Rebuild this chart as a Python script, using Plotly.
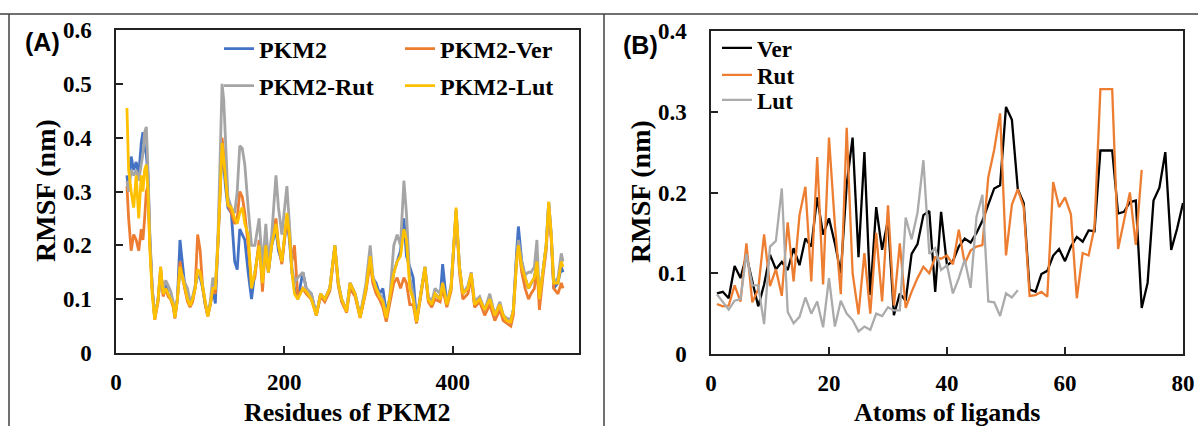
import plotly.graph_objects as go

# ---------------- Panel A: RMSF of PKM2 residues ----------------
residues = [13, 15, 18, 21, 24, 27, 30, 32, 34, 36,
            38, 40, 43, 46, 50, 53, 56, 59, 62, 65,
            68, 70, 73, 76, 79, 82, 85, 88, 91, 94,
            97, 100, 103, 106, 109, 112, 115, 118, 121, 124,
            126, 128, 130, 133, 137, 141, 144, 147, 150, 153,
            157, 161, 165, 170, 174, 178, 181, 185, 190, 193,
            197, 203, 206, 209, 212, 216, 222, 226, 232, 238,
            243, 248, 254, 260, 264, 268, 274, 278, 284, 290,
            297, 302, 305, 309, 313, 317, 321, 325, 330, 334,
            338, 342, 345, 349, 353, 357, 361, 367, 371, 375,
            379, 385, 388, 393, 398, 404, 408, 412, 418, 422,
            426, 432, 438, 444, 450, 456, 460, 464, 469, 472,
            476, 478, 482, 486, 490, 493, 497, 500, 503, 507,
            511, 514, 517, 520, 525, 529, 531]

pkm2 = [0.33, 0.30, 0.365, 0.34, 0.355, 0.33, 0.39, 0.41, 0.38, 0.37,
        0.33, 0.22, 0.12, 0.065, 0.10, 0.15, 0.11, 0.125, 0.11, 0.10,
        0.09, 0.068, 0.10, 0.21, 0.17, 0.12, 0.10, 0.088, 0.10, 0.12,
        0.145, 0.14, 0.12, 0.09, 0.07, 0.09, 0.12, 0.092, 0.20, 0.30,
        0.38, 0.35, 0.31, 0.27, 0.26, 0.17, 0.155, 0.23, 0.22, 0.21,
        0.15, 0.10, 0.15, 0.20, 0.14, 0.20, 0.15, 0.20, 0.23, 0.19,
        0.17, 0.25, 0.21, 0.15, 0.12, 0.10, 0.15, 0.12, 0.11, 0.07,
        0.11, 0.10, 0.12, 0.20, 0.13, 0.10, 0.078, 0.13, 0.11, 0.068,
        0.12, 0.18, 0.14, 0.13, 0.11, 0.12, 0.075, 0.10, 0.15, 0.17,
        0.19, 0.25, 0.18, 0.16, 0.14, 0.06, 0.10, 0.16, 0.10, 0.09,
        0.11, 0.10, 0.165, 0.09, 0.12, 0.265, 0.16, 0.11, 0.12, 0.145,
        0.09, 0.10, 0.08, 0.10, 0.07, 0.09, 0.07, 0.062, 0.06, 0.08,
        0.19, 0.235, 0.17, 0.14, 0.12, 0.13, 0.14, 0.17, 0.10, 0.15,
        0.20, 0.28, 0.22, 0.12, 0.13, 0.16, 0.15]

pkm2_ver = [0.31, 0.25, 0.19, 0.22, 0.21, 0.19, 0.23, 0.21, 0.25, 0.30,
            0.31, 0.21, 0.12, 0.062, 0.095, 0.16, 0.105, 0.12, 0.105, 0.10,
            0.085, 0.064, 0.10, 0.17, 0.14, 0.115, 0.095, 0.085, 0.095, 0.12,
            0.22, 0.19, 0.12, 0.09, 0.068, 0.09, 0.12, 0.11, 0.20, 0.32,
            0.40, 0.37, 0.33, 0.275, 0.26, 0.24, 0.25, 0.30, 0.29, 0.26,
            0.20, 0.13, 0.14, 0.21, 0.114, 0.21, 0.15, 0.21, 0.25, 0.20,
            0.165, 0.25, 0.22, 0.17, 0.20, 0.105, 0.12, 0.11, 0.10, 0.07,
            0.105, 0.095, 0.115, 0.195, 0.125, 0.095, 0.075, 0.12, 0.105, 0.065,
            0.115, 0.17, 0.13, 0.11, 0.10, 0.085, 0.058, 0.09, 0.13, 0.14,
            0.12, 0.14, 0.13, 0.09, 0.09, 0.055, 0.095, 0.155, 0.095, 0.085,
            0.10, 0.095, 0.12, 0.085, 0.115, 0.26, 0.15, 0.10, 0.11, 0.14,
            0.085, 0.095, 0.07, 0.09, 0.06, 0.08, 0.06, 0.055, 0.05, 0.07,
            0.18, 0.20, 0.15, 0.12, 0.10, 0.11, 0.12, 0.16, 0.08, 0.14,
            0.19, 0.27, 0.21, 0.12, 0.11, 0.13, 0.12]

pkm2_rut = [0.32, 0.30, 0.34, 0.33, 0.34, 0.32, 0.35, 0.37, 0.41, 0.42,
            0.34, 0.23, 0.12, 0.068, 0.10, 0.15, 0.12, 0.135, 0.125, 0.115,
            0.095, 0.07, 0.105, 0.15, 0.145, 0.13, 0.12, 0.095, 0.105, 0.125,
            0.145, 0.145, 0.125, 0.095, 0.072, 0.095, 0.14, 0.12, 0.21, 0.38,
            0.50, 0.47, 0.40, 0.29, 0.27, 0.26, 0.30, 0.385, 0.38, 0.35,
            0.27, 0.20, 0.20, 0.25, 0.16, 0.24, 0.17, 0.22, 0.33, 0.27,
            0.22, 0.31, 0.24, 0.16, 0.13, 0.14, 0.15, 0.12, 0.11, 0.072,
            0.11, 0.10, 0.12, 0.20, 0.13, 0.10, 0.08, 0.13, 0.11, 0.07,
            0.13, 0.20, 0.145, 0.12, 0.11, 0.10, 0.07, 0.10, 0.20, 0.22,
            0.20, 0.32, 0.26, 0.14, 0.11, 0.062, 0.10, 0.16, 0.105, 0.095,
            0.12, 0.11, 0.13, 0.095, 0.125, 0.265, 0.16, 0.11, 0.125, 0.15,
            0.095, 0.105, 0.08, 0.11, 0.07, 0.095, 0.07, 0.065, 0.062, 0.08,
            0.18, 0.21, 0.17, 0.145, 0.15, 0.15, 0.16, 0.21, 0.10, 0.15,
            0.20, 0.28, 0.22, 0.13, 0.14, 0.185, 0.17]

pkm2_lut = [0.455, 0.34, 0.30, 0.27, 0.33, 0.25, 0.33, 0.30, 0.34, 0.35,
            0.30, 0.20, 0.11, 0.062, 0.10, 0.16, 0.11, 0.12, 0.11, 0.10,
            0.09, 0.066, 0.10, 0.16, 0.14, 0.12, 0.10, 0.088, 0.10, 0.12,
            0.155, 0.15, 0.12, 0.09, 0.068, 0.09, 0.12, 0.12, 0.20, 0.31,
            0.39, 0.36, 0.32, 0.275, 0.27, 0.25, 0.24, 0.26, 0.27, 0.24,
            0.22, 0.12, 0.15, 0.20, 0.13, 0.20, 0.15, 0.20, 0.24, 0.20,
            0.17, 0.26, 0.22, 0.15, 0.11, 0.10, 0.12, 0.115, 0.10, 0.07,
            0.11, 0.10, 0.12, 0.20, 0.13, 0.10, 0.077, 0.13, 0.11, 0.066,
            0.12, 0.18, 0.14, 0.12, 0.105, 0.095, 0.065, 0.10, 0.148, 0.17,
            0.18, 0.23, 0.21, 0.12, 0.10, 0.058, 0.10, 0.16, 0.10, 0.09,
            0.11, 0.10, 0.13, 0.09, 0.12, 0.27, 0.16, 0.11, 0.12, 0.148,
            0.09, 0.10, 0.08, 0.10, 0.07, 0.09, 0.07, 0.06, 0.058, 0.08,
            0.17, 0.20, 0.16, 0.14, 0.12, 0.13, 0.14, 0.17, 0.10, 0.15,
            0.20, 0.281, 0.22, 0.13, 0.13, 0.17, 0.16]

# ---------------- Panel B: RMSF of ligand atoms ----------------
ver_atoms = list(range(1, 81))
ver = [0.075, 0.077, 0.069, 0.109, 0.094, 0.122, 0.09, 0.059, 0.086, 0.123,
       0.105, 0.114, 0.104, 0.131, 0.11, 0.143, 0.133, 0.194, 0.148, 0.168,
       0.137, 0.10, 0.21, 0.268, 0.12, 0.25, 0.073, 0.182, 0.129, 0.166,
       0.048, 0.075, 0.066, 0.124, 0.136, 0.172, 0.177, 0.077, 0.176, 0.11,
       0.115, 0.133, 0.143, 0.138, 0.15, 0.165, 0.185, 0.205, 0.209, 0.306,
       0.29, 0.204, 0.187, 0.08, 0.077, 0.099, 0.103, 0.122, 0.13, 0.115,
       0.133, 0.145, 0.139, 0.153, 0.152, 0.252, 0.252, 0.252, 0.174, 0.176,
       0.188, 0.19, 0.057, 0.088, 0.19, 0.206, 0.25, 0.129, 0.155, 0.187]

rut_atoms = list(range(1, 74))
rut = [0.062, 0.059, 0.06, 0.085, 0.065, 0.137, 0.064, 0.08, 0.148, 0.084,
       0.105, 0.072, 0.163, 0.09, 0.172, 0.207, 0.09, 0.244, 0.086, 0.268,
       0.16, 0.074, 0.28, 0.1, 0.049, 0.125, 0.05, 0.15, 0.065, 0.184,
       0.06, 0.137, 0.057, 0.077, 0.094, 0.108, 0.1, 0.12, 0.118, 0.122,
       0.111, 0.154, 0.112, 0.128, 0.133, 0.135, 0.219, 0.253, 0.298, 0.122,
       0.185, 0.204, 0.182, 0.072, 0.073, 0.077, 0.071, 0.213, 0.182, 0.194,
       0.173, 0.069, 0.125, 0.122, 0.157, 0.328, 0.328, 0.328, 0.13, 0.166,
       0.2, 0.135, 0.228]

lut_atoms = list(range(1, 53))
lut = [0.074, 0.064, 0.055, 0.066, 0.068, 0.124, 0.085, 0.085, 0.037, 0.133,
       0.14, 0.205, 0.052, 0.038, 0.046, 0.07, 0.05, 0.065, 0.033, 0.094,
       0.034, 0.066, 0.05, 0.042, 0.028, 0.034, 0.03, 0.05, 0.047, 0.058,
       0.054, 0.054, 0.169, 0.142, 0.175, 0.24, 0.124, 0.131, 0.104, 0.11,
       0.075, 0.094, 0.117, 0.082, 0.17, 0.197, 0.065, 0.064, 0.047, 0.075,
       0.07, 0.079]

assert len(residues) == len(pkm2) == len(pkm2_ver) == len(pkm2_rut) == len(pkm2_lut)
assert len(ver_atoms) == len(ver) and len(rut_atoms) == len(rut) and len(lut_atoms) == len(lut)

# ---------------- styling ----------------
W, H = 1198, 426
SERIF = "Liberation Serif"
BLUE, ORANGE, GRAY, GOLD = "#4472C4", "#ED7D31", "#A5A5A5", "#FFC000"

def px(x):
    return x / W

def py(y):
    return 1 - y / H

fig = go.Figure()

# name, values, colour, legend id, legend left px, legend row centre px
left_series = [("PKM2", pkm2, BLUE, "legend", 219, 49),
               ("PKM2-Ver", pkm2_ver, ORANGE, "legend2", 400, 49),
               ("PKM2-Rut", pkm2_rut, GRAY, "legend3", 219, 86),
               ("PKM2-Lut", pkm2_lut, GOLD, "legend4", 400, 86)]
right_series = [("Ver", ver_atoms, ver, "#000000", "legend5", 717, 48),
                ("Rut", rut_atoms, rut, ORANGE, "legend6", 717, 75),
                ("Lut", lut_atoms, lut, "#ABABAB", "legend7", 717, 100)]

legend_layout = {}
for name, vals, col, lg, lx, ly in left_series:
    fig.add_trace(go.Scatter(x=residues, y=vals, mode="lines", name=name,
                             line=dict(color=col, width=2.8), legend=lg,
                             xaxis="x", yaxis="y"))
    legend_layout[lg] = dict(x=px(lx), y=py(ly), xanchor="left", yanchor="middle",
                             bgcolor="rgba(0,0,0,0)", borderwidth=0,
                             font=dict(family=SERIF, size=24, color="black", weight="bold"))

for name, xs, vals, col, lg, lx, ly in right_series:
    fig.add_trace(go.Scatter(x=xs, y=vals, mode="lines", name=name,
                             line=dict(color=col, width=2.3), legend=lg,
                             xaxis="x2", yaxis="y2"))
    legend_layout[lg] = dict(x=px(lx), y=py(ly), xanchor="left", yanchor="middle",
                             bgcolor="rgba(0,0,0,0)", borderwidth=0,
                             font=dict(family=SERIF, size=23, color="black", weight="bold"))

tickfont = dict(family=SERIF, size=23, color="black", weight="bold")
axis_common = dict(showline=True, linecolor="#222222", linewidth=1.5, mirror=True,
                   ticks="inside", ticklen=7, tickwidth=1.5, tickcolor="#222222",
                   showgrid=False, zeroline=False, tickfont=tickfont, fixedrange=True,
                   automargin=False)

fig.update_layout(
    width=W, height=H,
    margin=dict(l=0, r=0, t=0, b=0, pad=0, autoexpand=False),
    paper_bgcolor="white", plot_bgcolor="white",
    showlegend=True,
    xaxis=dict(domain=[px(116), px(579)], range=[0, 550], tickvals=[0, 200, 400],
               anchor="y", ticklabelstandoff=8, **axis_common),
    yaxis=dict(domain=[py(353), py(30)], range=[0, 0.6], dtick=0.1,
               anchor="x", ticklabelstandoff=18, **axis_common),
    xaxis2=dict(domain=[px(711), px(1183)], range=[0, 80], dtick=20,
                anchor="y2", ticklabelstandoff=8, **axis_common),
    yaxis2=dict(domain=[py(354), py(31)], range=[0, 0.4], dtick=0.1,
                anchor="x2", ticklabelstandoff=18, **axis_common),
    **legend_layout,
)

title_font = dict(family=SERIF, size=26, color="black", weight="bold")
ytitle_font = dict(family=SERIF, size=28, color="black", weight="bold")
annotations = [
    dict(text="RMSF (nm)", x=px(46), y=py(191), textangle=-90, font=ytitle_font),
    dict(text="RMSF (nm)", x=px(640), y=py(192), textangle=-90, font=ytitle_font),
    dict(text="Residues of PKM2", x=px(347), y=py(412), font=title_font),
    dict(text="Atoms of ligands", x=px(947), y=py(412), font=title_font),
    dict(text="(A)", x=px(42), y=py(42),
         font=dict(family="Liberation Sans", size=25, color="black", weight="bold")),
    dict(text="(B)", x=px(640), y=py(45),
         font=dict(family="Liberation Sans", size=25, color="black", weight="bold")),
]
for a in annotations:
    fig.add_annotation(xref="paper", yref="paper", showarrow=False,
                       xanchor="center", yanchor="middle", **a)

# panel frame lines
frame = dict(color="#404040", width=1.5)
fig.add_shape(type="line", xref="paper", yref="paper", x0=0, x1=1, y0=py(14), y1=py(14), line=frame)
fig.add_shape(type="line", xref="paper", yref="paper", x0=px(9), x1=px(9), y0=0, y1=py(14), line=frame)
fig.add_shape(type="line", xref="paper", yref="paper", x0=px(604), x1=px(604), y0=0, y1=py(14), line=frame)

fig.write_html("out.html")
